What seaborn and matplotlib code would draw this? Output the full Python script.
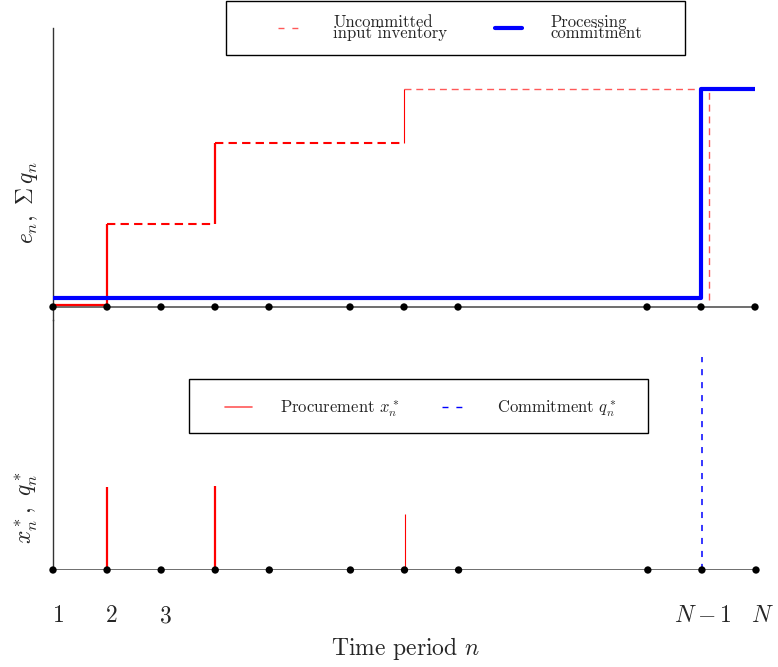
import matplotlib
matplotlib.use("Agg")
import matplotlib.pyplot as plt
import matplotlib.transforms as mtransforms
from matplotlib.lines import Line2D
from matplotlib.patches import Rectangle
import seaborn as sns
import pandas as pd

# ---------------- data ----------------
periods = [1, 2, 3, 4, 5, 6.5, 7.5, 8.5, 12, 13, 14]
tick_pos = [1, 2, 3, 13, 14]
tick_labels = ["1", "2", "3", "$N-1$", "$N$"]
tick_shift_px = [6, 5, 5, 1, 6]

# uncommitted input inventory (step levels)
inv_start = [1, 2, 4, 7.5]
inv_end = [2, 4, 7.5, 13.15]
inv_level = [2, 83, 164, 218]
inv_final_level = 7

# cumulative processing commitment (steps-post)
commit_x = [1, 13, 14]
commit_y = [9, 218, 218]

# procurement / commitment spikes
proc_x = [2, 4, 7.5]
proc_y = [83, 84, 56]
qcommit_x = [13]
qcommit_y = [213]

# ---------------- style ----------------
sns.set_style("white")
plt.rcParams["font.family"] = ["cmr10", "DejaVu Serif"]
plt.rcParams["mathtext.fontset"] = "cm"
plt.rcParams["axes.formatter.use_mathtext"] = True
plt.rcParams["axes.unicode_minus"] = True

W, H = 778, 667
fig = plt.figure(figsize=(W / 100, H / 100), dpi=100)


def fx(px):
    return px / W


def fy(py):
    return 1 - py / H


ax_top = fig.add_axes([fx(53), fy(320), fx(755) - fx(53), fy(28) - fy(320)])
ax_bot = fig.add_axes([fx(53), fy(570), fx(756) - fx(53), fy(320) - fy(570)])

for ax in (ax_top, ax_bot):
    ax.set_xlim(1, 14)
    for s in ("top", "right", "bottom"):
        ax.spines[s].set_visible(False)
    ax.spines["left"].set_color("#333333")
    ax.spines["left"].set_linewidth(1.0)
    ax.set_yticks([])
    ax.set_xticks([])
    ax.axhline(0, color="#555555", lw=1.2, zorder=1)
    sns.scatterplot(x=periods, y=[0] * len(periods), ax=ax, color="black",
                    s=28, edgecolor="none", zorder=6, clip_on=False, legend=False)
    ax.set_facecolor("none")

ax_top.set_ylim(-13, 279)
ax_bot.set_ylim(0, 250)

# ---- top panel ----
red = (1, 0, 0)
light_red = (1, 0.35, 0.35)
for i, (a, b, lev) in enumerate(zip(inv_start, inv_end, inv_level)):
    if i == 0:
        ls, col, lw = "-", red, 1.6
    elif i < len(inv_level) - 1:
        ls, col, lw = (0, (4, 2.5)), red, 1.5
    else:
        ls, col, lw = (0, (5, 3.5)), light_red, 1.0
    df = pd.DataFrame({"x": [a, b], "y": [lev, lev]})
    sns.lineplot(data=df, x="x", y="y", ax=ax_top, color=col, lw=lw,
                 linestyle=ls, estimator=None, sort=False, zorder=3)
jump_lw = [1.6, 1.6, 0.8]
for i in range(1, len(inv_level)):
    ax_top.vlines(inv_start[i], inv_level[i - 1], inv_level[i],
                  colors=[red], linewidths=jump_lw[i - 1], zorder=3)
ax_top.vlines(inv_end[-1], inv_final_level, inv_level[-1], colors=[light_red],
              linewidths=1.0, linestyles=[(0, (5, 3.5))], zorder=3)

cdf = pd.DataFrame({"x": commit_x, "y": commit_y})
sns.lineplot(data=cdf, x="x", y="y", ax=ax_top, color="blue", lw=3,
             drawstyle="steps-post", estimator=None, sort=False, zorder=4)

# ---- bottom panel ----
ax_bot.vlines(proc_x, 0, proc_y, colors=[red], linewidths=[1.6, 1.6, 0.8], zorder=3)
ax_bot.vlines(qcommit_x, 0, qcommit_y, colors=["blue"], linewidths=1.1,
              linestyles=[(0, (4, 4.5))], zorder=3)

for ax in (ax_top, ax_bot):
    ax.set_xlabel("")
    ax.set_ylabel("")

# period labels under the bottom axis
blend = mtransforms.blended_transform_factory(ax_bot.transData, fig.transFigure)
for pos, lbl, sh in zip(tick_pos, tick_labels, tick_shift_px):
    tr = blend + mtransforms.ScaledTranslation(sh / 100, 0, fig.dpi_scale_trans)
    ax_bot.text(pos, fy(616), lbl, transform=tr, ha="center", va="center",
                fontsize=17, clip_on=False)

# axis labels
fig.text(fx(27), fy(203), r"$e_n,\ \Sigma\, q_n$", rotation=90, ha="center",
         va="center", fontsize=17)
fig.text(fx(27), fy(508), r"$x_n^*,\ q_n^*$", rotation=90, ha="center",
         va="center", fontsize=17)
fig.text(fx(406), fy(648), "Time period $n$", ha="center", va="center", fontsize=17)

# legends
h1 = [Line2D([], [], color=light_red, lw=1.0, ls=(0, (4.3, 5.7))),
      Line2D([], [], color="blue", lw=3)]
leg1 = fig.legend(handles=h1, labels=["Uncommitted\ninput inventory", "Processing\ncommitment"],
                  loc="center left", bbox_to_anchor=(fx(278), fy(28)), ncol=2,
                  frameon=False, borderpad=0, borderaxespad=0, handlelength=1.6,
                  handletextpad=1.7, columnspacing=2.9, fontsize=12)
for t in leg1.get_texts():
    t.set_linespacing(0.7)
fig.add_artist(Rectangle((fx(226), fy(55)), fx(685) - fx(226), fy(1) - fy(55),
                         transform=fig.transFigure, fill=False, ec="black", lw=1.0))

h2 = [Line2D([], [], color=light_red, lw=1.2),
      Line2D([], [], color="blue", lw=1.0, ls=(0, (4.3, 5.7)))]
fig.legend(handles=h2, labels=["Procurement $x_n^*$", "Commitment $q_n^*$"],
           loc="center left", bbox_to_anchor=(fx(225), fy(409)), ncol=2,
           frameon=False, borderpad=0, borderaxespad=0, handlelength=1.6,
           handletextpad=1.7, columnspacing=2.6, fontsize=12)
fig.add_artist(Rectangle((fx(189), fy(433)), fx(648) - fx(189), fy(379) - fy(433),
                         transform=fig.transFigure, fill=False, ec="black", lw=1.0))

fig.savefig("out.png", dpi=100)
